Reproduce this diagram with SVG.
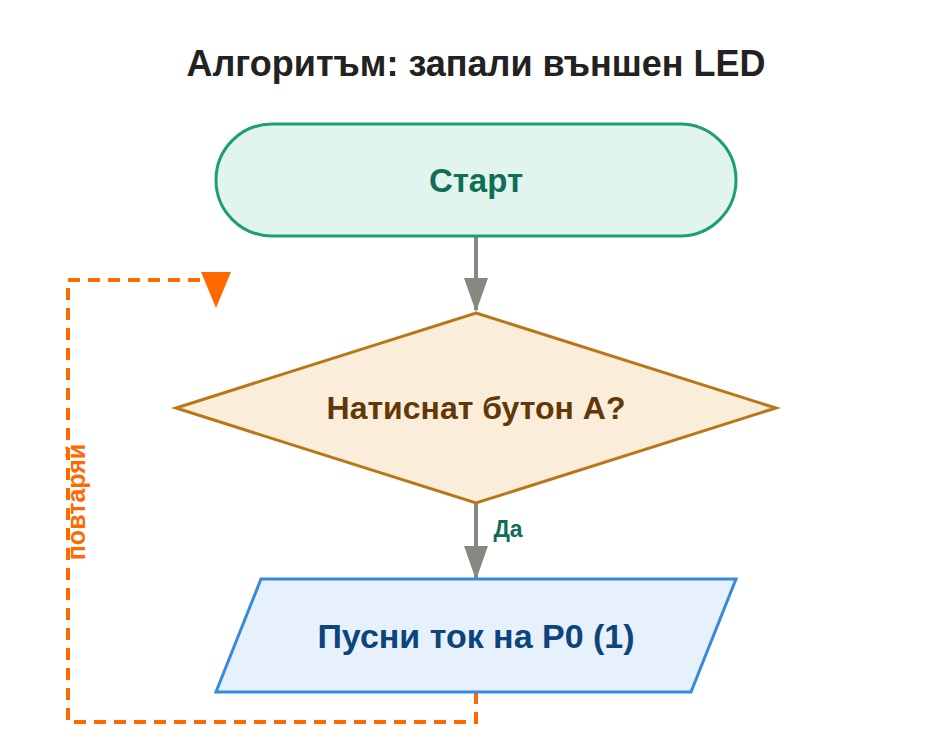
<svg xmlns="http://www.w3.org/2000/svg" width="952" height="756" viewBox="0 0 952 756">
<style>
text{font-family:"Liberation Sans",Arial,sans-serif;font-weight:bold;text-anchor:middle}
</style>
<rect width="952" height="756" fill="#fff"/>
<text x="476" y="76" font-size="36" fill="#222">Алгоритъм: запали външен LED</text>
<g id="connectors">
<line x1="476" y1="237" x2="476" y2="310" stroke="#888780" stroke-width="4"/>
<path d="M464,278L488,278L476,312z" fill="#888780"/>
<line x1="476" y1="503" x2="476" y2="578" stroke="#888780" stroke-width="4"/>
<path d="M464,546L488,546L476,580z" fill="#888780"/>
<text x="508" y="537" font-size="23" fill="#0f6e56">Да</text>
<path d="M476,692V722H68V280H216V300" fill="none" stroke="#ff6a00" stroke-width="4" stroke-dasharray="12,8"/>
<path d="M201,272L231,272L216,308z" fill="#ff6a00"/>
<text transform="translate(85,502) rotate(-90)" font-size="25" fill="#ff6a00">повтаряй</text>
</g>
<g id="start">
<rect x="216" y="124" width="520" height="112" rx="56" fill="#e1f5ee" stroke="#1d9e75" stroke-width="3"/>
<text x="476" y="192" font-size="33" fill="#0f6e56">Старт</text>
</g>
<g id="decision">
<path d="M476,313L776,408L476,503L176,408z" fill="#faeeda" stroke="#ba7517" stroke-width="3"/>
<text x="476" y="419" font-size="32" fill="#633806">Натиснат бутон A?</text>
</g>
<g id="output">
<path d="M261,579H736L691,692H216z" fill="#e6f1fb" stroke="#378add" stroke-width="3"/>
<text x="476" y="648" font-size="34" fill="#0c447c">Пусни ток на P0 (1)</text>
</g>
</svg>
